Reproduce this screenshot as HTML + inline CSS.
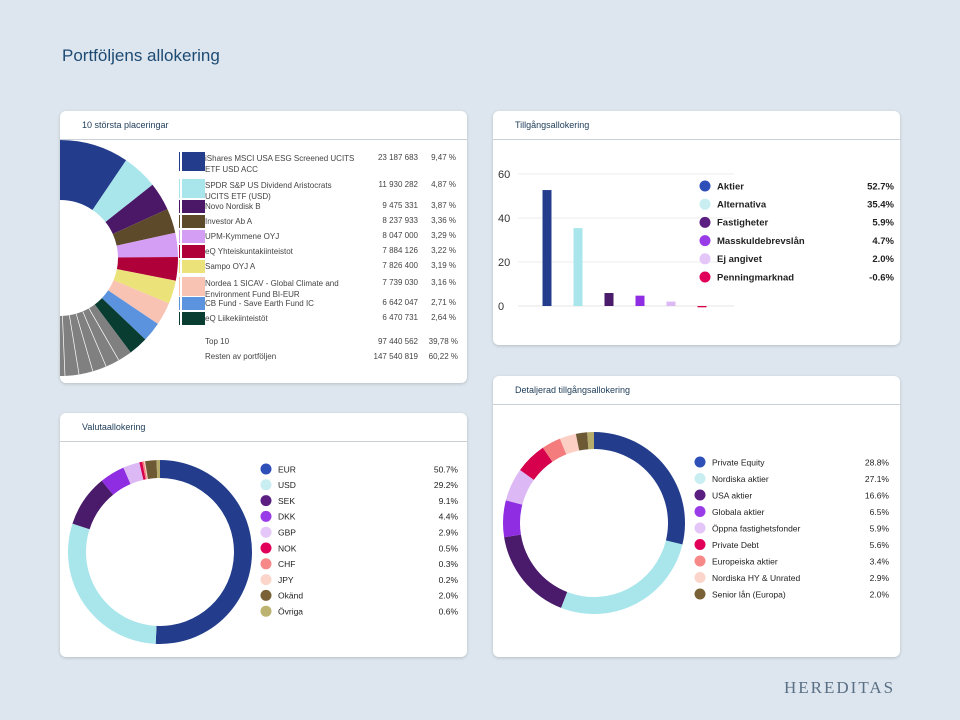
<!DOCTYPE html>
<html><head><meta charset="utf-8">
<style>
body{margin:0;width:960px;height:720px;background:#dde6ee;font-family:"Liberation Sans",sans-serif;position:relative;overflow:hidden}
.card{position:absolute;background:#fff;border-radius:6px;box-shadow:0 1px 3px rgba(0,0,0,.18);overflow:hidden}
.hdr{position:absolute;left:0;right:0;top:0;height:28px;border-bottom:1px solid #c9d0d6}
.hdr span{position:absolute;left:22px;top:9px;font-size:9px;color:#1d3b57}
.t{position:absolute;font-size:8px;color:#333;white-space:nowrap}
.r{text-align:right}
</style></head><body>
<div style="position:absolute;left:62px;top:46px;font-size:17px;color:#1d4a73">Portföljens allokering</div>
<div style="position:absolute;left:784px;top:678px;font-family:'Liberation Serif',serif;font-size:17px;letter-spacing:2px;color:#5a6f84">HEREDITAS</div>

<div class="card" style="left:60px;top:111px;width:407px;height:272px">
 <div class="hdr"><span>10 största placeringar</span></div>
 <svg id="top10svg" style="position:absolute;left:0;top:0" width="407" height="272"></svg>
 <div id="top10tbl"></div>
</div>

<div class="card" style="left:493px;top:111px;width:407px;height:234px">
 <div class="hdr"><span>Tillgångsallokering</span></div>
 <svg id="barsvg" style="position:absolute;left:0;top:0" width="407" height="234"></svg>
</div>

<div class="card" style="left:60px;top:413px;width:407px;height:244px">
 <div class="hdr"><span>Valutaallokering</span></div>
 <svg id="cursvg" style="position:absolute;left:0;top:0" width="407" height="244"></svg>
</div>

<div class="card" style="left:493px;top:376px;width:407px;height:281px">
 <div class="hdr"><span>Detaljerad tillgångsallokering</span></div>
 <svg id="detsvg" style="position:absolute;left:0;top:0" width="407" height="281"></svg>
</div>

<script>
const NS="http://www.w3.org/2000/svg";
// Top 10 data
const topNames=["iShares MSCI USA ESG Screened UCITS|ETF USD ACC","SPDR S&P US Dividend Aristocrats|UCITS ETF (USD)","Novo Nordisk B","Investor Ab A","UPM-Kymmene OYJ","eQ Yhteiskuntakiinteistot","Sampo OYJ A","Nordea 1 SICAV - Global Climate and|Environment Fund BI-EUR","CB Fund - Save Earth Fund IC","eQ Liikekiinteistöt"];
const topAmounts=["23 187 683","11 930 282","9 475 331","8 237 933","8 047 000","7 884 126","7 826 400","7 739 030","6 642 047","6 470 731"];
const topPcts=[9.47,4.87,3.87,3.36,3.29,3.22,3.19,3.16,2.71,2.64];
const topColors=["#233d8c","#a8e6ec","#4b1868","#5d4a2a","#d59ef5","#b0003a","#ece27a","#f9c3b3","#5b93df","#0a3d32"];
const restPct=60.22;
// Asset allocation
const assetCats=["Aktier","Alternativa","Fastigheter","Masskuldebrevslån","Ej angivet","Penningmarknad"];
const assetVals=[52.7,35.4,5.9,4.7,2.0,-0.6];
const assetColors=["#233d8c","#a8e6ec","#4a1a6b","#8e2de2","#dcb8f5","#d6004c"];
const assetLegendColors=["#2e4fb8","#c8eef2","#5a1f80","#9a3be8","#e4c6f8","#e0005a"];
const assetTicks=[0,20,40,60];
// Currency
const curCats=["EUR","USD","SEK","DKK","GBP","NOK","CHF","JPY","Okänd","Övriga"];
const curVals=[50.7,29.2,9.1,4.4,2.9,0.5,0.3,0.2,2.0,0.6];
const curColors=["#233d8c","#a8e6ec","#4a1a6b","#8e2de2","#dcb8f5","#d6004c","#f47c7c","#fbcfc4","#6d5a35","#b5ab6a"];
// Detailed
const detCats=["Private Equity","Nordiska aktier","USA aktier","Globala aktier","Öppna fastighetsfonder","Private Debt","Europeiska aktier","Nordiska HY & Unrated","Senior lån (Europa)"];
const detVals=[28.8,27.1,16.6,6.5,5.9,5.6,3.4,2.9,2.0];
const detOther=1.2;
const detColors=["#233d8c","#a8e6ec","#4a1a6b","#8e2de2","#dcb8f5","#d6004c","#f47c7c","#fbcfc4","#6d5a35","#b5ab6a"];

function mk(tag,attrs,parent){const e=document.createElementNS(NS,tag);for(const k in attrs)e.setAttribute(k,attrs[k]);parent.appendChild(e);return e;}
function arcPath(cx,cy,R,r,a0,a1){
 const p=(a,rad)=>[cx+rad*Math.sin(a),cy-rad*Math.cos(a)];
 const large=(a1-a0)>Math.PI?1:0;
 const [x0,y0]=p(a0,R),[x1,y1]=p(a1,R),[x2,y2]=p(a1,r),[x3,y3]=p(a0,r);
 return `M${x0},${y0}A${R},${R} 0 ${large} 1 ${x1},${y1}L${x2},${y2}A${r},${r} 0 ${large} 0 ${x3},${y3}Z`;
}
function donut(svg,vals,colors,cx,cy,R,r,total,name,stroke){
 let a=0;
 vals.forEach((v,i)=>{
  const a1=a+v/total*2*Math.PI;
  const p=mk("path",{d:arcPath(cx,cy,R,r,a,Math.min(a1,a+2*Math.PI-1e-4)),fill:colors[i]},svg);
  if(stroke){p.setAttribute("stroke","#fff");p.setAttribute("stroke-width","0.6");}
  
  
  a=a1;
 });
}
function legendSvg(svg,cats,vals,colors,x,y0,step,vx,name,fs,bold){
 cats.forEach((c,i)=>{
  const y=y0+i*step;
  const ci=mk("circle",{cx:x,cy:y,r:5.5,fill:colors[i]},svg);
  
  
  const t=mk("text",{x:x+12,y:y+3.3,"font-size":fs,fill:"#222","font-weight":bold?"bold":"normal"},svg);t.textContent=c;
  
  
  const v=mk("text",{x:vx,y:y+3.3,"font-size":fs,fill:"#222","text-anchor":"end","font-weight":bold?"bold":"normal"},svg);v.textContent=vals[i].toFixed(1)+"%";
  
  
 });
}

// Top10 donut
(function(){
 const svg=document.getElementById("top10svg");
 donut(svg,topPcts.concat([restPct]),topColors.concat(["#808080"]),0,147,118,58,100,"top10",false);
 // rest separators
 let a=topPcts.reduce((s,v)=>s+v,0)/100*2*Math.PI;
 for(let k=1;k<8;k++){const aa=a+k*0.12;
  mk("line",{x1:58*Math.sin(aa),y1:147-58*Math.cos(aa),x2:118*Math.sin(aa),y2:147-118*Math.cos(aa),stroke:"#fff","stroke-width":0.7},svg);}
 const tb=document.getElementById("top10tbl");
 const rowsY=[42,69,90,105,120,135,150,167,187,202];
 topNames.forEach((n,i)=>{
  const y=rowsY[i];const two=n.includes("|");
  const sw=document.createElement("div");sw.className="t";
  sw.style.cssText=`left:120px;top:${y-1}px;width:23px;height:${two?19:13}px;background:${topColors[i]};border-left:2px solid #fff;box-shadow:-1px 0 0 ${topColors[i]}`;
  
  
  tb.appendChild(sw);
  const nm=document.createElement("div");nm.className="t";nm.style.cssText=`left:145px;top:${y}px;line-height:11px;color:#444`;
  nm.innerHTML=n.replace("|","<br>").replace("&","&amp;").replace("&amp;amp;","&amp;");
  
  
  tb.appendChild(nm);
  const am=document.createElement("div");am.className="t r";am.style.cssText=`left:290px;width:68px;top:${y}px;color:#444`;am.textContent=topAmounts[i];
  
  
  tb.appendChild(am);
  const pc=document.createElement("div");pc.className="t r";pc.style.cssText=`left:360px;width:36px;top:${y}px;color:#444`;pc.textContent=topPcts[i].toFixed(2).replace(".",",")+" %";
  
  
  tb.appendChild(pc);
 });
 const sumP=topPcts.reduce((s,v)=>s+v,0);
 [["Top 10","97 440 562",sumP,226],["Resten av portföljen","147 540 819",restPct,241]].forEach((r,i)=>{
  const d=document.createElement("div");d.className="t";d.style.cssText=`left:145px;top:${r[3]}px;color:#444`;d.textContent=r[0];
  tb.appendChild(d);
  const a=document.createElement("div");a.className="t r";a.style.cssText=`left:280px;width:78px;top:${r[3]}px;color:#444`;a.textContent=r[1];
  tb.appendChild(a);
  const p=document.createElement("div");p.className="t r";p.style.cssText=`left:356px;width:42px;top:${r[3]}px;color:#444`;p.textContent=r[2].toFixed(2).replace(".",",")+" %";
  tb.appendChild(p);
 });
})();

// Bar chart
(function(){
 const svg=document.getElementById("barsvg");
 const y0=195,ppu=2.2,x0=54,step=31,bw=9;
 const Y=v=>y0-v*ppu;
 assetTicks.forEach(t=>{
  if(t>0){const l=mk("line",{x1:25,x2:241,y1:Y(t),y2:Y(t),stroke:"#ececec","stroke-width":1},svg);}
  const tx=mk("text",{x:5,y:Y(t)+4,"font-size":11,fill:"#333"},svg);tx.textContent=t;
  
 });
 mk("line",{x1:25,x2:241,y1:y0,y2:y0,stroke:"#e4e4e4"},svg);
 assetVals.forEach((v,i)=>{
  const cx=x0+i*step;
  const r=mk("rect",{x:cx-bw/2,y:Math.min(Y(v),y0),width:bw,height:Math.max(Math.abs(v*ppu),1.2),fill:assetColors[i]},svg);
  
  
 });
 legendSvg(svg,assetCats,assetVals,assetLegendColors,212,75,18.2,401,"asset",9.5,true);
})();

// Currency donut
(function(){
 const svg=document.getElementById("cursvg");
 donut(svg,curVals,curColors,100,139,92,74,curVals.reduce((s,v)=>s+v,0),"currency",false);
 legendSvg(svg,curCats,curVals,["#2e4fb8","#c8eef2","#5a1f80","#9a3be8","#e4c6f8","#e0005a","#f68888","#fbd4ca","#7a6236","#bdb370"],206,56,15.8,398,"currency",8.5,false);
})();

// Detailed donut
(function(){
 const svg=document.getElementById("detsvg");
 const vals=detVals.concat([detOther]);
 donut(svg,vals,detColors,101,147,91,74,vals.reduce((s,v)=>s+v,0),"detail",false);
 legendSvg(svg,detCats,detVals,["#2e4fb8","#c8eef2","#5a1f80","#9a3be8","#e4c6f8","#e0005a","#f68888","#fbd4ca","#7a6236"],207,86,16.5,396,"detail",8.5,false);
})();
</script>
</body></html>
